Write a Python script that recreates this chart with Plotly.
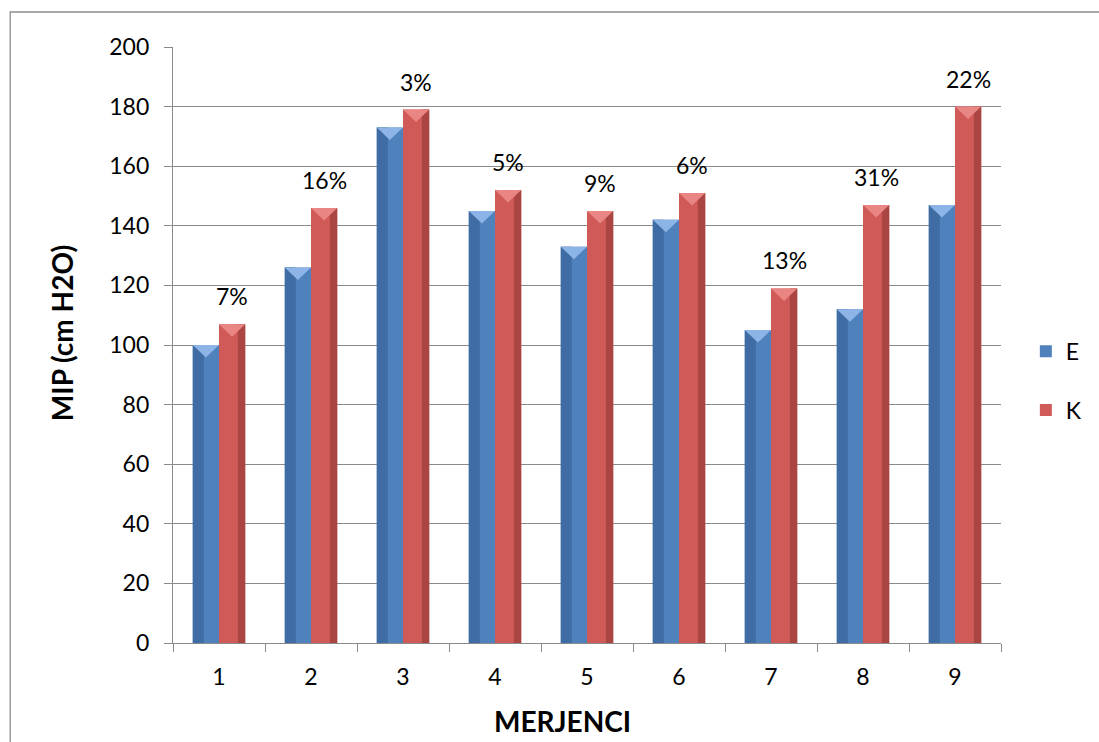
import plotly.graph_objects as go

# MIP measurements per subject (cm H2O) for the two series
subjects = [1, 2, 3, 4, 5, 6, 7, 8, 9]
series_e = [100, 126, 173, 145, 133, 142, 105, 112, 147]
series_k = [107, 146, 179, 152, 145, 151, 119, 147, 180]
y_ticks = [0, 20, 40, 60, 80, 100, 120, 140, 160, 180, 200]

# relative increase of K over E, shown above each K bar
pct_labels = [f"{round((k / e - 1) * 100)}%" for e, k in zip(series_e, series_k)]

FONT = "Lato, Carlito, Calibri, sans-serif"
BAR_W = 0.285
GRID = "#8a8a8a"
TXT = 23

blue, blue_dark, blue_top = "#4F81BD", "#3F6CA3", "#8DB4E6"
red, red_dark, red_top = "#CF5A57", "#A94542", "#E98683"

fig = go.Figure()

# base bars (legend entries)
fig.add_trace(go.Bar(x=subjects, y=series_e, name="E", offset=-BAR_W, width=BAR_W,
                     marker=dict(color=blue, line=dict(width=0)), legendgroup="E"))
fig.add_trace(go.Bar(x=subjects, y=series_k, name="K", offset=0, width=BAR_W,
                     marker=dict(color=red, line=dict(width=0)), legendgroup="K"))

# shaded sides giving the bevelled look
fig.add_trace(go.Bar(x=subjects, y=series_e, offset=-BAR_W, width=BAR_W * 0.42,
                     marker=dict(color=blue_dark, line=dict(width=0)),
                     showlegend=False, hoverinfo="skip"))
fig.add_trace(go.Bar(x=subjects, y=series_k, offset=BAR_W * 0.72, width=BAR_W * 0.28,
                     marker=dict(color=red_dark, line=dict(width=0)),
                     showlegend=False, hoverinfo="skip"))

# triangular caps on top of every bar
shapes = []
cap_depth = 4.2
for xs, vals, off, col in ((subjects, series_e, -BAR_W, blue_top),
                           (subjects, series_k, 0.0, red_top)):
    for x, v in zip(xs, vals):
        x0 = x + off
        x1 = x0 + BAR_W
        xc = (x0 + x1) / 2
        shapes.append(dict(type="path", xref="x", yref="y",
                           path=f"M {x0},{v} L {x1},{v} L {xc},{v - cap_depth} Z",
                           fillcolor=col, line=dict(width=0), layer="above"))

# outer chart frame
shapes.append(dict(type="rect", xref="paper", yref="paper",
                   x0=-0.1966, x1=1.3, y0=-0.3, y1=1.0587,
                   line=dict(color="#8c8c8c", width=1.3), fillcolor="rgba(0,0,0,0)",
                   layer="below"))

annotations = []
for x, k, lab in zip(subjects, series_k, pct_labels):
    annotations.append(dict(x=x + BAR_W / 2, y=k, text=lab, showarrow=False,
                            xref="x", yref="y", yshift=28,
                            xanchor="center", yanchor="middle",
                            font=dict(family=FONT, size=TXT, color="#000")))

annotations.append(dict(text="<b>MIP (cm H2O)</b>", textangle=-90, showarrow=False,
                        xref="paper", yref="paper", x=-0.134, y=0.52,
                        xanchor="center", yanchor="middle",
                        font=dict(family=FONT, size=28, color="#000")))
annotations.append(dict(text="<b>MERJENCI</b>", showarrow=False,
                        xref="paper", yref="paper", x=0.47, y=-0.131,
                        xanchor="center", yanchor="middle",
                        font=dict(family=FONT, size=28, color="#000")))

fig.update_layout(
    width=1099, height=742,
    margin=dict(l=173, r=92, t=47, b=99),
    paper_bgcolor="white", plot_bgcolor="white",
    barmode="overlay",
    font=dict(family=FONT, size=TXT, color="#000"),
    shapes=shapes, annotations=annotations,
    legend=dict(x=1.03, y=0.44, xanchor="left", yanchor="middle",
                font=dict(family=FONT, size=TXT), tracegroupgap=26,
                itemwidth=30),
    xaxis=dict(range=[0.5, 9.5], tickmode="array", tickvals=subjects,
               ticks="", showgrid=False, zeroline=False,
               showline=True, linecolor=GRID, linewidth=1.3,
               ticklabelstandoff=13,
               minor=dict(tickmode="array", tickvals=[i + 0.5 for i in range(0, 10)],
                          ticks="outside", ticklen=8, tickcolor=GRID, tickwidth=1.3,
                          showgrid=False)),
    yaxis=dict(range=[0, 200], tickmode="array", tickvals=y_ticks,
               showgrid=True, gridcolor=GRID, gridwidth=1.3, zeroline=False,
               showline=True, linecolor=GRID, linewidth=1.3,
               ticks="outside", ticklen=8, tickcolor=GRID, tickwidth=1.3,
               ticklabelstandoff=10),
)

fig.write_html("out.html")
